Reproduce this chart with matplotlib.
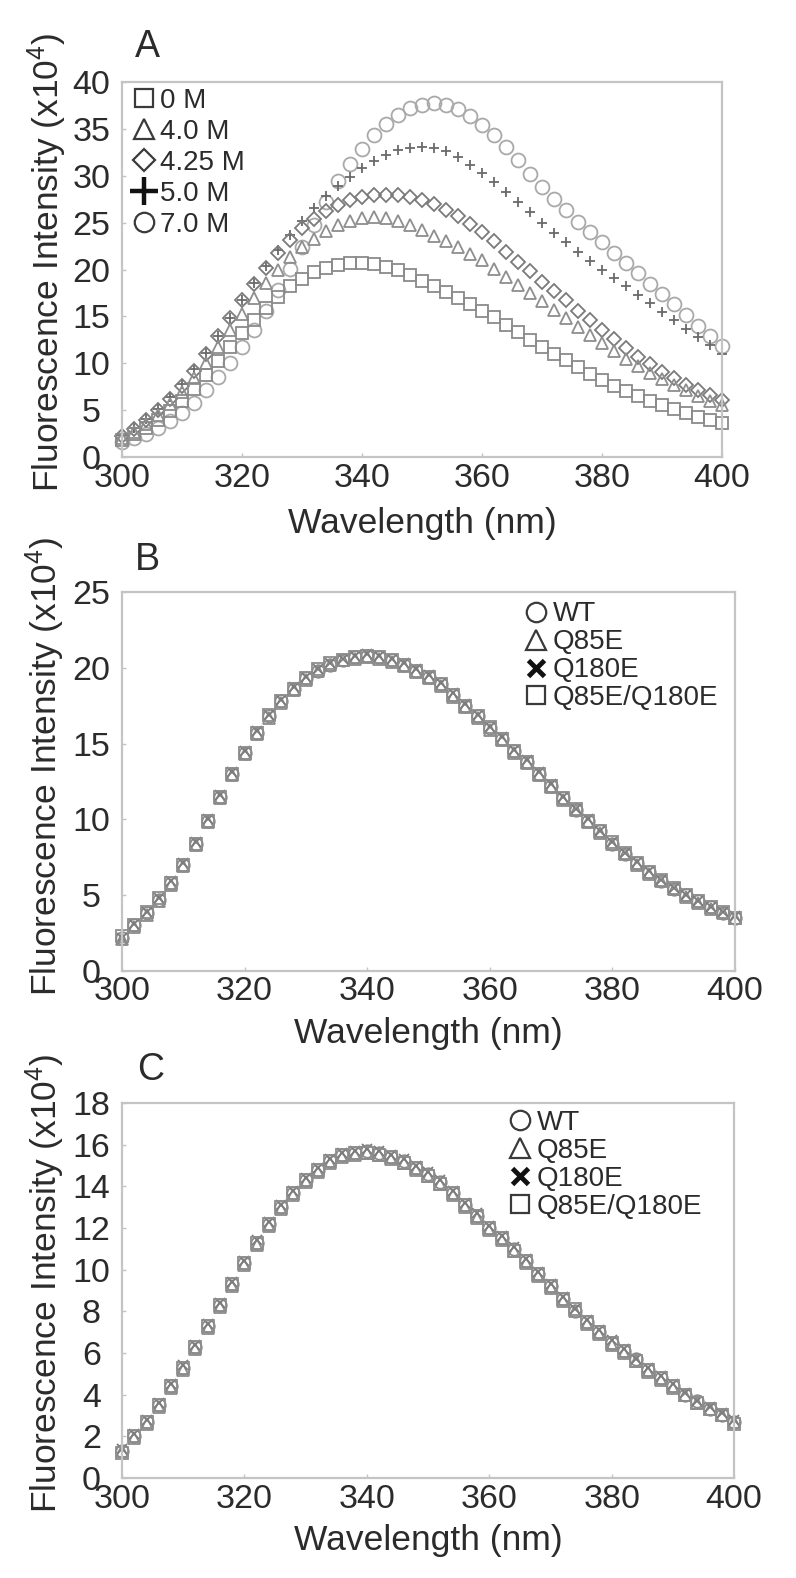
import numpy as np
import matplotlib
matplotlib.use("Agg")
import matplotlib.pyplot as plt
from matplotlib.lines import Line2D

plt.rcParams['font.family'] = ['Liberation Sans', 'DejaVu Sans']
plt.rcParams['mathtext.fontset'] = 'custom'
plt.rcParams['mathtext.rm'] = 'Liberation Sans'
plt.rcParams['mathtext.it'] = 'Liberation Sans:italic'
plt.rcParams['mathtext.bf'] = 'Liberation Sans:bold'

TEXT = '#2b2b2b'
FRAME = '#c4c4c4'

# emission wavelength, nm (one point every 2 nm)
wavelength = np.arange(300, 401, 2)

# panel A: urea series, intensity x10^4
a_labels = ['0 M', '4.0 M', '4.25 M', '5.0 M', '7.0 M']
a_0m = [1.8, 2.4, 3.1, 3.9, 4.9, 6.0, 7.3, 8.7, 10.2, 11.7, 13.2, 14.6, 15.9, 17.1, 18.2,
        19.0, 19.7, 20.2, 20.5, 20.7, 20.7, 20.6, 20.3, 19.9, 19.4, 18.8, 18.2, 17.6, 17.0, 16.3,
        15.6, 14.9, 14.1, 13.3, 12.5, 11.7, 11.0, 10.3, 9.6, 8.9, 8.2, 7.6, 7.0, 6.5, 6.0,
        5.5, 5.1, 4.7, 4.3, 3.9, 3.6]
a_4m = [2.0, 2.7, 3.5, 4.5, 5.6, 6.9, 8.4, 10.0, 11.7, 13.5, 15.3, 17.0, 18.6, 20.0, 21.3,
        22.4, 23.3, 24.1, 24.7, 25.2, 25.5, 25.6, 25.5, 25.2, 24.8, 24.2, 23.6, 23.0, 22.4, 21.7,
        21.0, 20.1, 19.2, 18.4, 17.5, 16.6, 15.7, 14.8, 13.9, 13.0, 12.2, 11.3, 10.5, 9.7, 9.0,
        8.3, 7.7, 7.1, 6.5, 6.0, 5.5]
a_425m = [2.2, 3.0, 3.9, 5.0, 6.2, 7.6, 9.2, 11.0, 12.9, 14.8, 16.7, 18.5, 20.2, 21.8, 23.2,
          24.4, 25.4, 26.2, 26.9, 27.4, 27.7, 27.9, 28.0, 27.9, 27.7, 27.4, 27.0, 26.4, 25.7, 24.9,
          24.0, 23.0, 21.9, 20.8, 19.8, 18.7, 17.7, 16.7, 15.6, 14.6, 13.6, 12.6, 11.6, 10.7, 9.9,
          9.1, 8.4, 7.7, 7.1, 6.6, 6.1]
a_5m = [2.3, 3.1, 4.0, 5.1, 6.4, 7.8, 9.4, 11.1, 12.9, 14.8, 16.7, 18.6, 20.4, 22.1, 23.7,
        25.2, 26.6, 27.8, 28.9, 29.9, 30.8, 31.6, 32.2, 32.7, 33.0, 33.1, 33.0, 32.6, 32.0, 31.2,
        30.3, 29.3, 28.3, 27.2, 26.1, 25.0, 23.9, 22.9, 21.9, 20.9, 20.0, 19.1, 18.2, 17.3, 16.4,
        15.5, 14.6, 13.7, 12.8, 11.9, 11.0]
a_7m = [1.6, 2.0, 2.5, 3.1, 3.8, 4.7, 5.8, 7.1, 8.5, 10.0, 11.7, 13.6, 15.6, 17.8, 20.1,
        22.4, 24.8, 27.2, 29.4, 31.3, 32.9, 34.3, 35.5, 36.5, 37.2, 37.6, 37.8, 37.6, 37.1, 36.4,
        35.4, 34.3, 33.1, 31.7, 30.2, 28.8, 27.5, 26.3, 25.1, 24.0, 22.9, 21.8, 20.7, 19.6, 18.5,
        17.4, 16.3, 15.2, 14.0, 12.9, 11.8]

# panels B and C: variants
variant_labels = ['WT', 'Q85E', 'Q180E', 'Q85E/Q180E']
b_wt = [2.2, 3.0, 3.8, 4.7, 5.8, 7.0, 8.4, 9.9, 11.5, 13.0, 14.4, 15.7, 16.8, 17.8, 18.6,
        19.3, 19.8, 20.2, 20.5, 20.7, 20.8, 20.7, 20.5, 20.2, 19.8, 19.4, 18.9, 18.2, 17.5, 16.8,
        16.0, 15.3, 14.5, 13.8, 13.0, 12.2, 11.4, 10.6, 9.9, 9.2, 8.4, 7.7, 7.1, 6.5, 5.9,
        5.4, 5.0, 4.6, 4.2, 3.8, 3.5]
b_q85e = [2.1, 2.9, 3.7, 4.6, 5.7, 6.9, 8.3, 9.8, 11.4, 12.9, 14.3, 15.6, 16.7, 17.7, 18.5,
          19.2, 19.8, 20.2, 20.5, 20.6, 20.7, 20.6, 20.4, 20.1, 19.7, 19.3, 18.8, 18.1, 17.4, 16.7,
          15.9, 15.2, 14.4, 13.7, 12.9, 12.1, 11.3, 10.6, 9.8, 9.1, 8.4, 7.7, 7.0, 6.4, 5.9,
          5.4, 4.9, 4.5, 4.1, 3.8, 3.5]
b_q180e = [2.2, 3.1, 3.9, 4.8, 5.9, 7.1, 8.5, 10.0, 11.6, 13.1, 14.5, 15.8, 16.9, 17.9, 18.7,
           19.4, 19.9, 20.3, 20.6, 20.8, 20.9, 20.8, 20.6, 20.3, 19.9, 19.5, 19.0, 18.3, 17.6, 16.9,
           16.1, 15.4, 14.6, 13.9, 13.1, 12.3, 11.5, 10.7, 10.0, 9.2, 8.5, 7.8, 7.2, 6.6, 6.0,
           5.5, 5.0, 4.6, 4.2, 3.9, 3.6]
b_double = [2.3, 3.0, 3.9, 4.8, 5.8, 7.0, 8.4, 9.9, 11.5, 13.0, 14.4, 15.7, 16.9, 17.8, 18.6,
            19.3, 19.9, 20.3, 20.5, 20.7, 20.8, 20.7, 20.5, 20.2, 19.8, 19.4, 18.9, 18.2, 17.5, 16.8,
            16.1, 15.3, 14.5, 13.8, 13.0, 12.2, 11.4, 10.7, 9.9, 9.2, 8.5, 7.8, 7.1, 6.5, 6.0,
            5.5, 5.0, 4.6, 4.2, 3.9, 3.5]

c_wt = [1.3, 2.0, 2.7, 3.5, 4.4, 5.3, 6.3, 7.3, 8.3, 9.3, 10.3, 11.3, 12.2, 13.0, 13.7,
        14.3, 14.8, 15.2, 15.5, 15.6, 15.7, 15.6, 15.4, 15.2, 14.9, 14.6, 14.2, 13.7, 13.1, 12.6,
        12.0, 11.5, 11.0, 10.4, 9.8, 9.2, 8.6, 8.0, 7.5, 7.0, 6.5, 6.1, 5.7, 5.2, 4.8,
        4.4, 4.0, 3.7, 3.3, 3.0, 2.7]
c_q85e = [1.3, 1.9, 2.6, 3.4, 4.3, 5.2, 6.2, 7.2, 8.2, 9.2, 10.2, 11.2, 12.1, 12.9, 13.6,
          14.2, 14.7, 15.1, 15.4, 15.5, 15.6, 15.5, 15.3, 15.1, 14.8, 14.5, 14.1, 13.6, 13.0, 12.5,
          11.9, 11.4, 10.9, 10.3, 9.7, 9.1, 8.5, 8.0, 7.4, 6.9, 6.4, 6.0, 5.6, 5.1, 4.7,
          4.3, 4.0, 3.6, 3.3, 3.0, 2.7]
c_q180e = [1.4, 2.1, 2.8, 3.6, 4.5, 5.4, 6.4, 7.4, 8.4, 9.4, 10.4, 11.4, 12.3, 13.1, 13.8,
           14.4, 14.9, 15.3, 15.6, 15.7, 15.8, 15.7, 15.5, 15.3, 15.0, 14.7, 14.3, 13.8, 13.2, 12.7,
           12.1, 11.6, 11.1, 10.5, 9.9, 9.3, 8.7, 8.1, 7.6, 7.1, 6.6, 6.2, 5.7, 5.3, 4.9,
           4.5, 4.1, 3.7, 3.4, 3.1, 2.8]
c_double = [1.2, 2.0, 2.7, 3.5, 4.4, 5.3, 6.3, 7.3, 8.3, 9.3, 10.3, 11.3, 12.2, 13.0, 13.7,
            14.3, 14.8, 15.2, 15.5, 15.6, 15.6, 15.5, 15.4, 15.1, 14.9, 14.5, 14.1, 13.7, 13.1, 12.6,
            12.0, 11.5, 10.9, 10.4, 9.8, 9.2, 8.6, 8.1, 7.5, 7.0, 6.5, 6.1, 5.6, 5.2, 4.8,
            4.4, 4.0, 3.6, 3.3, 3.0, 2.6]

YLABEL = 'Fluorescence Intensity (x10$^{4}$)'
XLABEL = 'Wavelength (nm)'


def style_axes(ax, ymax, ystep, ylab_y, xlab_y):
    ax.set_xlim(300, 400)
    ax.set_ylim(0, ymax)
    ax.set_xticks(range(300, 401, 20))
    ax.set_yticks(range(0, ymax + 1, ystep))
    for s in ax.spines.values():
        s.set_color(FRAME)
        s.set_linewidth(1.6)
    ax.tick_params(direction='in', length=3, width=1, color=FRAME,
                   labelsize=24.5, labelcolor=TEXT)
    ax.tick_params(axis='x', pad=4)
    ax.tick_params(axis='y', pad=22)
    plt.setp(ax.get_yticklabels(), ha='center')
    ax.set_ylabel(YLABEL, fontsize=25.5, color=TEXT, va='center')
    ax.set_xlabel(XLABEL, fontsize=25.5, color=TEXT, va='center')
    ax.yaxis.set_label_coords(-0.125, ylab_y)
    ax.xaxis.set_label_coords(0.5, xlab_y)


def handle(marker, ms, color, mew=1.6):
    return Line2D([], [], ls='none', marker=marker, ms=ms, mfc='none',
                  mec=color, mew=mew)


fig = plt.figure(figsize=(7.96, 15.78), dpi=100)

# ---- A ----
axA = fig.add_axes([0.1533, 0.7104, 0.7538, 0.2376])
a_series = [a_7m, a_5m, a_425m, a_4m, a_0m]
a_styles = [('o', 10, '#a9a9a9'), ('+', 7, '#6a6a6a'), ('D', 7, '#7a7a7a'),
            ('^', 8, '#8e8e8e'), ('s', 8, '#8a8a8a')]
for vals, (m, ms, col) in zip(a_series, a_styles):
    axA.plot(wavelength, vals, ls='none', marker=m, ms=ms, mfc='none', mec=col,
             mew=1.3, clip_on=False)
style_axes(axA, 40, 5, 0.52, -0.178)
hA = [handle('s', 13, '#3a3a3a'), handle('^', 14, '#3a3a3a'), handle('D', 11, '#3a3a3a'),
      handle('+', 20, '#111111', mew=3.2), handle('o', 14, '#3a3a3a')]
axA.legend(hA, a_labels, loc='upper left', bbox_to_anchor=(0.015, 0.985), frameon=False,
           fontsize=20, labelcolor=TEXT, handlelength=0.9, handletextpad=0.15,
           labelspacing=0.18, borderpad=0, borderaxespad=0)
axA.text(0.043, 1.093, 'A', transform=axA.transAxes, fontsize=27, color=TEXT,
         ha='center', va='center')

# ---- B and C ----
v_styles = [('o', 9, '#8c8c8c'), ('^', 8, '#8c8c8c'), ('x', 7, '#7c7c7c'), ('s', 8, '#8c8c8c')]


def variant_handles():
    return [handle('o', 14, '#3a3a3a'), handle('^', 14, '#3a3a3a'),
            handle('x', 12, '#111111', mew=3.5), handle('s', 13, '#3a3a3a')]


panels = [
    ([0.1533, 0.3847, 0.7701, 0.2402], [b_wt, b_q85e, b_q180e, b_double], 25, 5,
     'B', (0.042, 1.084), 0.54, -0.165, (0.655, 0.975)),
    ([0.1533, 0.0634, 0.7690, 0.2376], [c_wt, c_q85e, c_q180e, c_double], 18, 2,
     'C', (0.046, 1.088), 0.52, -0.167, (0.63, 0.982)),
]
for rect, series, ymax, ystep, tag, tagpos, ylab_y, xlab_y, legpos in panels:
    ax = fig.add_axes(rect)
    for vals, (m, ms, col) in zip(series, v_styles):
        ax.plot(wavelength, vals, ls='none', marker=m, ms=ms, mfc='none', mec=col,
                mew=1.3, clip_on=False)
    style_axes(ax, ymax, ystep, ylab_y, xlab_y)
    ax.legend(variant_handles(), variant_labels, loc='upper left', bbox_to_anchor=legpos,
              frameon=False, fontsize=20, labelcolor=TEXT, handlelength=0.9,
              handletextpad=0.15, labelspacing=0.07, borderpad=0, borderaxespad=0)
    ax.text(tagpos[0], tagpos[1], tag, transform=ax.transAxes, fontsize=27, color=TEXT,
            ha='center', va='center')

fig.savefig('out.png', dpi=100)
